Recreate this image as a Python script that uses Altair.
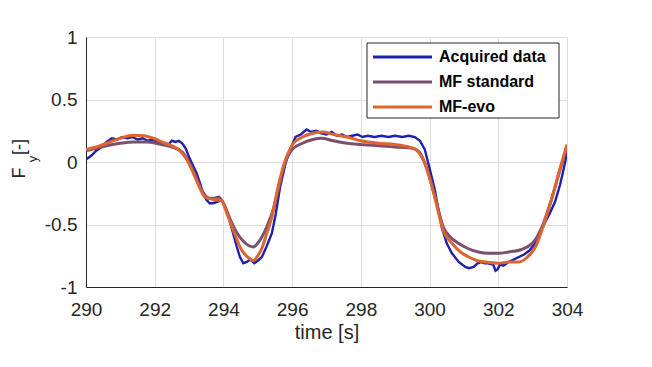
import altair as alt
import pandas as pd

# ---- data ----
t_acq = [290.0, 290.15, 290.3, 290.45, 290.6, 290.75, 290.9, 291.05, 291.2, 291.35, 291.5, 291.65,
         291.8, 291.95, 292.1, 292.25, 292.4, 292.5, 292.6, 292.7, 292.8, 292.9, 293.0, 293.1,
         293.22, 293.32, 293.41, 293.5, 293.6, 293.7, 293.8, 293.9, 293.95, 294.05, 294.15, 294.25,
         294.39, 294.48, 294.58, 294.68, 294.78, 294.9, 295.0, 295.12, 295.25, 295.41, 295.52, 295.65,
         295.8, 295.94, 296.1, 296.25, 296.42, 296.55, 296.7, 296.85, 297.0, 297.15, 297.3, 297.45,
         297.6, 297.75, 297.9, 298.05, 298.2, 298.4, 298.6, 298.8, 299.0, 299.2, 299.4, 299.57,
         299.72, 299.86, 300.0, 300.15, 300.25, 300.35, 300.5, 300.65, 300.85, 301.04, 301.15, 301.28,
         301.4, 301.5, 301.6, 301.7, 301.85, 301.92, 301.98, 302.05, 302.15, 302.3, 302.45, 302.6,
         302.75, 302.9, 303.08, 303.2, 303.35, 303.5, 303.65, 303.8, 303.9, 304.0]
v_acq = [0.02, 0.05, 0.09, 0.12, 0.16, 0.19, 0.18, 0.20, 0.19, 0.20, 0.18, 0.19,
         0.17, 0.18, 0.15, 0.15, 0.14, 0.17, 0.16, 0.17, 0.15, 0.11, 0.04, -0.02,
         -0.09, -0.17, -0.25, -0.30, -0.33, -0.33, -0.32, -0.31, -0.31, -0.36, -0.44, -0.54,
         -0.68, -0.76, -0.81, -0.80, -0.78, -0.81, -0.79, -0.76, -0.68, -0.57, -0.42, -0.20,
         -0.02, 0.10, 0.20, 0.22, 0.26, 0.24, 0.25, 0.23, 0.22, 0.24, 0.21, 0.22,
         0.20, 0.21, 0.22, 0.20, 0.21, 0.20, 0.21, 0.20, 0.21, 0.20, 0.21, 0.20,
         0.17, 0.10, -0.05, -0.22, -0.37, -0.52, -0.65, -0.73, -0.80, -0.84, -0.85, -0.84,
         -0.81, -0.80, -0.81, -0.81, -0.82, -0.87, -0.86, -0.82, -0.83, -0.80, -0.78, -0.76,
         -0.74, -0.71, -0.65, -0.58, -0.49, -0.41, -0.32, -0.18, -0.06, 0.07]

t_std = [290.0, 290.3, 290.6, 291.0, 291.4, 291.8, 292.2, 292.5, 292.8, 293.0, 293.2, 293.4,
         293.6, 293.75, 293.86, 294.0, 294.2, 294.4, 294.6, 294.87, 295.05, 295.26, 295.45, 295.6,
         295.75, 296.0, 296.3, 296.6, 296.85, 297.2, 297.6, 298.0, 298.5, 299.0, 299.5, 299.7,
         299.85, 300.0, 300.15, 300.4, 300.6, 300.84, 301.1, 301.42, 301.7, 302.0, 302.3, 302.68,
         302.9, 303.08, 303.3, 303.57, 303.8, 304.0]
v_std = [0.09, 0.11, 0.13, 0.15, 0.16, 0.16, 0.14, 0.12, 0.08, 0.00, -0.12, -0.24,
         -0.29, -0.29, -0.28, -0.33, -0.46, -0.57, -0.64, -0.68, -0.63, -0.52, -0.38, -0.22,
         -0.04, 0.10, 0.15, 0.18, 0.19, 0.17, 0.15, 0.14, 0.13, 0.12, 0.11, 0.08,
         0.00, -0.12, -0.27, -0.52, -0.60, -0.65, -0.69, -0.72, -0.73, -0.73, -0.72, -0.70,
         -0.67, -0.62, -0.50, -0.28, -0.06, 0.12]

t_evo = [290.0, 290.3, 290.7, 291.0, 291.37, 291.7, 291.96, 292.3, 292.64, 292.8, 292.93, 293.08,
         293.22, 293.35, 293.46, 293.7, 293.95, 294.1, 294.25, 294.39, 294.5, 294.63, 294.75, 294.87,
         295.0, 295.12, 295.25, 295.41, 295.55, 295.75, 296.04, 296.3, 296.6, 296.9, 297.2, 297.6,
         298.0, 298.5, 299.0, 299.4, 299.6, 299.75, 299.86, 300.0, 300.15, 300.4, 300.65, 300.9,
         301.14, 301.4, 301.62, 302.0, 302.3, 302.6, 302.85, 303.08, 303.3, 303.57, 303.8, 304.0]
v_evo = [0.10, 0.12, 0.16, 0.19, 0.215, 0.21, 0.19, 0.15, 0.11, 0.07, 0.02, -0.06,
         -0.15, -0.23, -0.28, -0.30, -0.31, -0.41, -0.52, -0.62, -0.69, -0.74, -0.77, -0.79,
         -0.75, -0.69, -0.58, -0.44, -0.25, -0.03, 0.15, 0.20, 0.23, 0.24, 0.22, 0.20,
         0.17, 0.15, 0.14, 0.12, 0.10, 0.05, -0.01, -0.13, -0.28, -0.55, -0.65, -0.72,
         -0.76, -0.79, -0.80, -0.81, -0.80, -0.80, -0.76, -0.68, -0.52, -0.28, -0.05, 0.14]

series = ["Acquired data", "MF standard", "MF-evo"]
colors = ["#2020b0", "#7a5070", "#dd6530"]
x_ticks = [290, 292, 294, 296, 298, 300, 302, 304]
y_ticks = [-1, -0.5, 0, 0.5, 1]

FONT = "Liberation Sans"
TXT = "#262626"

W, H = 481, 250

x_enc = alt.X("t:Q", scale=alt.Scale(domain=[290, 304], nice=False, zero=False),
              axis=alt.Axis(values=x_ticks, format="d", title="time [s]", grid=True,
                            gridColor="#dedede", ticks=False, domainColor=TXT,
                            labelFontSize=19, labelColor=TXT, labelFont=FONT, labelPadding=13,
                            titleFontSize=20, titleFont=FONT, titleColor=TXT,
                            titleFontWeight="normal", titlePadding=3, labelFlush=False))
y_enc = alt.Y("v:Q", scale=alt.Scale(domain=[-1, 1], nice=False),
              axis=alt.Axis(values=y_ticks, labelExpr="datum.value + ''", title="", grid=True,
                            gridColor="#dedede", ticks=False, domainColor=TXT,
                            labelFontSize=19, labelColor=TXT, labelFont=FONT, labelPadding=9,
                            labelFlush=False))


def line(ts, vs, color, width, interp):
    df = pd.DataFrame({"t": ts, "v": vs})
    return alt.Chart(df).mark_line(color=color, strokeWidth=width, interpolate=interp,
                                   clip=True).encode(x=x_enc, y=y_enc)


lines = [
    line(t_acq, v_acq, colors[0], 2.4, "linear"),
    line(t_std, v_std, colors[1], 3, "monotone"),
    line(t_evo, v_evo, colors[2], 3, "monotone"),
]

one = pd.DataFrame({"a": [0]})

# legend box
lx0, ly0, lx1, ly1 = 281, 6, 473, 81
legend_layers = [
    alt.Chart(one).mark_rect(fill="white", stroke=TXT, strokeWidth=1).encode(
        x=alt.value(lx0), x2=alt.value(lx1), y=alt.value(ly0), y2=alt.value(ly1))
]
for i, (name, col) in enumerate(zip(series, colors)):
    yy = 20 + i * 25
    legend_layers.append(
        alt.Chart(one).mark_rule(color=col, strokeWidth=3).encode(
            x=alt.value(287), x2=alt.value(346), y=alt.value(yy)))
    legend_layers.append(
        alt.Chart(one).mark_text(text=name, align="left", baseline="middle", font=FONT,
                                 fontSize=16, fontWeight="bold", color="black").encode(
            x=alt.value(353), y=alt.value(yy)))

# y axis title  F_y [-]
ytitle = [
    alt.Chart(one).mark_text(text="F", angle=270, align="center", baseline="middle",
                             font=FONT, fontSize=18, color=TXT).encode(
        x=alt.value(-66), y=alt.value(136)),
    alt.Chart(one).mark_text(text="y", angle=270, align="center", baseline="middle",
                             font=FONT, fontSize=13, color=TXT).encode(
        x=alt.value(-53), y=alt.value(122)),
    alt.Chart(one).mark_text(text="[-]", angle=270, align="center", baseline="middle",
                             font=FONT, fontSize=18, color=TXT).encode(
        x=alt.value(-66), y=alt.value(110)),
]

chart = alt.layer(*lines, *legend_layers, *ytitle).properties(
    width=W, height=H,
    autosize=alt.AutoSizeParams(type="none"),
    padding={"left": 78, "top": 29, "right": 70, "bottom": 60},
).configure_view(stroke=TXT, strokeWidth=1).configure(background="white")

chart.save("out.html", embed_options={"renderer": "svg", "actions": False})
